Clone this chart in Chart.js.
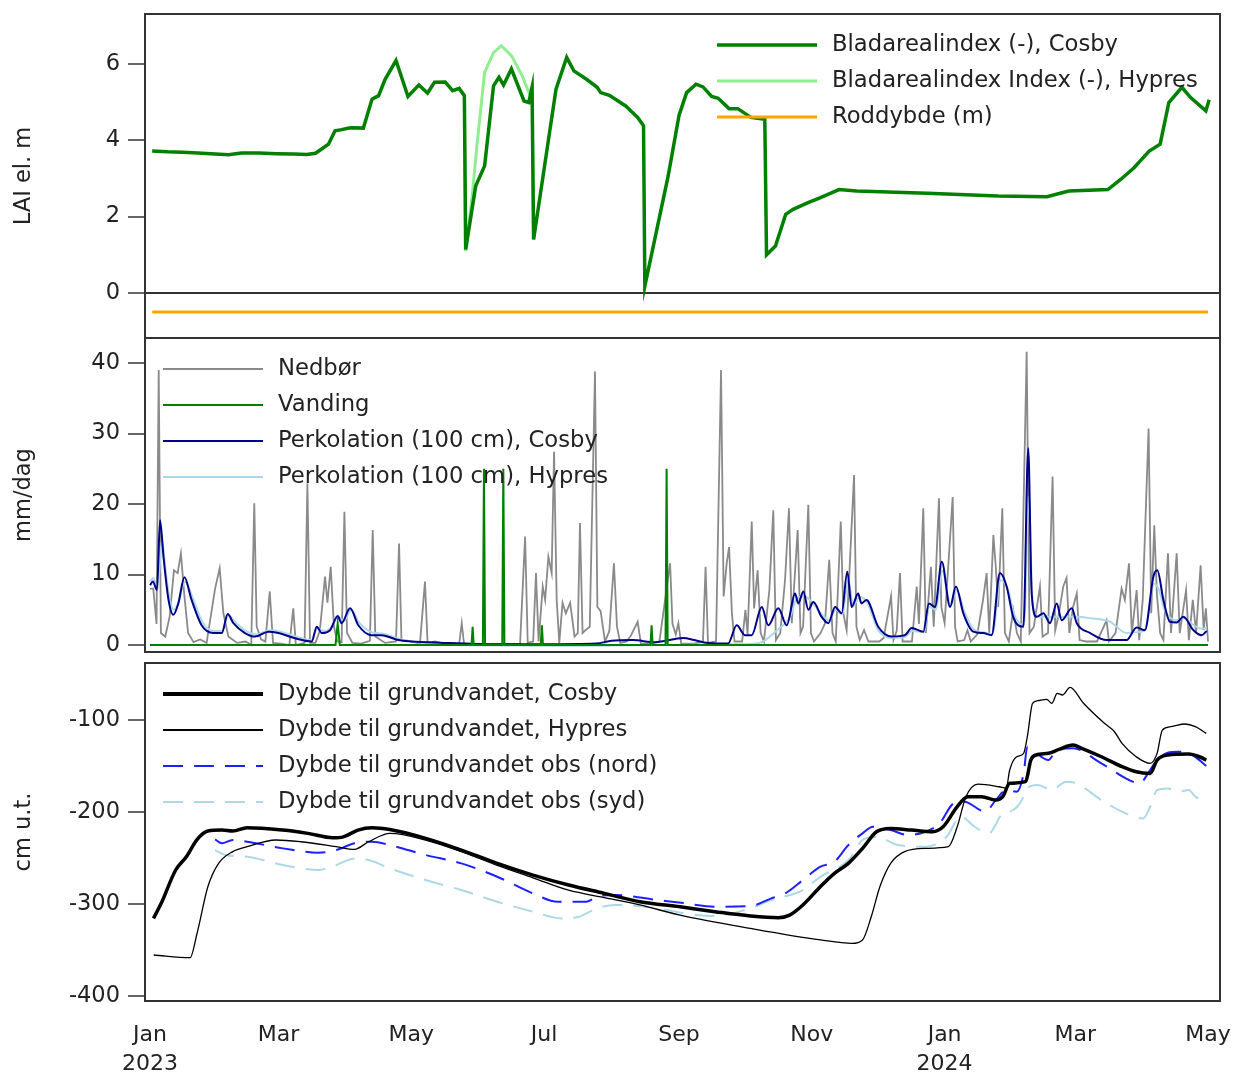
<!DOCTYPE html>
<html>
<head>
<meta charset="utf-8">
<script src="https://cdn.jsdelivr.net/npm/chart.js@4.4.1/dist/chart.umd.min.js"></script>
<style>
  body { margin: 0; background: #fff; }
  #wrap { position: relative; width: 1236px; height: 1077px; }
  canvas { position: absolute; left: 0; }
</style>
</head>
<body>
<div id="wrap">
  <canvas id="lai" width="1236" height="340" style="top:0px"></canvas>
  <canvas id="flux" width="1236" height="320" style="top:336px"></canvas>
  <canvas id="gw" width="1236" height="421" style="top:656px"></canvas>
</div>
<script>
// x = days since 1 Jan 2023
const monthDays = [0, 59, 120, 181, 243, 304, 365, 425, 486];
const monthLabels = [['Jan', '2023'], 'Mar', 'May', 'Jul', 'Sep', 'Nov', ['Jan', '2024'], 'Mar', 'May'];

const laiTicks = [0, 2, 4, 6];
const fluxTicks = [0, 10, 20, 30, 40];
const gwTicks = [-100, -200, -300, -400];

// Bladarealindex (LAI)
const laiCosby = [[1,3.72],[8,3.70],[15,3.69],[22,3.67],[30,3.64],[36,3.62],[42,3.67],[50,3.67],[58,3.65],[66,3.64],[72,3.63],[76,3.66],[79,3.78],[82,3.90],[85,4.25],[88,4.28],[92,4.33],[98,4.32],[102,5.08],[105,5.17],[108,5.60],[113,6.09],[118.5,5.15],[123.5,5.45],[127.5,5.24],[130.7,5.52],[135.6,5.53],[139,5.30],[142,5.36],[144.4,5.17],[145,1.14],[149.6,2.80],[153.7,3.33],[157.8,5.43],[160.3,5.65],[162.4,5.45],[166,5.87],[171.8,5.03],[174,4.99],[175.5,5.39],[176.2,1.40],[182.4,3.77],[186.5,5.34],[191.4,6.17],[194.7,5.82],[200.5,5.60],[205.4,5.39],[207,5.25],[211,5.18],[218.5,4.90],[224,4.60],[226.7,4.38],[227.3,0.18],[238,3.06],[243,4.65],[246.5,5.25],[250.8,5.47],[254,5.40],[258,5.15],[261,5.10],[266,4.83],[270,4.83],[276,4.60],[282.4,4.55],[283.2,1.0],[287.3,1.23],[292,2.06],[295.4,2.19],[302,2.36],[308,2.50],[316.5,2.71],[324.6,2.67],[357,2.61],[389.5,2.54],[412,2.52],[422,2.67],[440,2.71],[446,2.98],[452,3.28],[459,3.72],[464,3.90],[468,4.99],[474,5.39],[478,5.12],[485,4.77],[486.5,5.06]];
const laiHypres = [[140,5.30],[142,5.36],[144.4,5.17],[145,1.10],[148,2.54],[150,3.77],[153.7,5.78],[157.8,6.30],[161.4,6.48],[166,6.22],[171,5.69],[174,5.25],[175.5,5.39],[176.2,1.40]];
const roddybde = [[1,-0.5],[486,-0.5]];

// mm/dag
const nedbor = [[0,8],[1.5,8],[3,3],[4,39],[5,1.7],[7,1.2],[9,4],[11,10.6],[12.7,10.2],[14.2,13],[15.7,7.3],[17.5,1.7],[20,0.4],[23,0.8],[26,0.3],[29.9,8],[32,10.9],[33.7,4.5],[36,1.2],[40,0.3],[44,0.5],[46.5,0],[47.9,20.1],[49,2.6],[51,0.8],[53,0.5],[55,7.6],[56.5,0.3],[60,0.2],[64,0],[65.8,5.2],[67,0],[71,0.3],[72.3,22.9],[73.5,0.3],[76,0.3],[78,2],[80.4,9.7],[81.5,6],[83,11.1],[84.5,2.6],[86,0.5],[88,0.4],[89.3,18.9],[90.5,1.7],[93,0.3],[97,0.2],[101,0.6],[102.3,16.3],[103.5,1.2],[108,0.3],[113,0.5],[114.4,14.4],[115.5,0.7],[119,0.6],[124,0.2],[126.3,9],[127.5,0.3],[131,0.5],[136,0.1],[142,0.1],[143.2,3.1],[144.3,0],[170,0.2],[172.3,15.4],[173.5,0.3],[176,0.5],[177.3,10.2],[178.5,0.5],[180.4,8.3],[181.5,6.4],[183,12.5],[184.5,10.2],[185.6,27.4],[186.8,6.4],[188,0.3],[189.5,6],[191,4.5],[193,6],[195,1.2],[196.5,1.7],[197.5,17.3],[198.7,1.7],[200,2.1],[202,2.6],[204.4,38.8],[205.5,5.4],[207,4.8],[209,0.5],[211,2],[213.1,11.6],[214.5,2.6],[216,0.3],[219,0.5],[221,1.4],[224,3.3],[225.5,0.2],[230,0.2],[234,0.5],[238.9,11.6],[240,3],[241.5,1.5],[242.7,3.1],[244,0.2],[250,0.2],[254,0.5],[255.2,11.1],[256.3,0.3],[260,0.5],[262.3,39],[263.5,6.9],[264.9,11.6],[266,13.9],[267.3,4.5],[268.5,0.5],[272,0.5],[273.5,5],[274.5,1.5],[276.4,17.5],[277.5,5.2],[279.1,10.6],[280.5,1.7],[282,0.5],[284.5,7.8],[286.3,19.1],[287.5,0.7],[289.5,1.7],[291.7,9.2],[293.5,19.4],[294.8,3.1],[297.5,16.3],[298.8,1.7],[300,2.6],[302.4,19.9],[303.6,1.7],[305,0.5],[308,1.7],[310,3],[312,12.1],[313.5,1.7],[315,0.5],[317.3,17.5],[318.5,4.5],[320,2.1],[323.4,24.1],[324.5,2.6],[326,0.7],[328,2.1],[330,0.5],[335,0.5],[337,1],[340.4,6.9],[341.5,0.7],[343,2],[344.5,10.2],[345.7,0.5],[350,0.5],[352.2,8.3],[353.2,3],[355.2,19.4],[356.4,1.7],[358.7,11.1],[360,2.6],[362.4,20.8],[363.5,5.4],[365,3.1],[368.7,21],[369.8,2.6],[371,0.5],[374,0.7],[375.5,2.1],[377,0.5],[380,1.5],[382.5,6.1],[384.3,10.2],[385.5,1.7],[387.4,15.6],[388.5,11.1],[389.6,5.4],[391.5,19.4],[392.7,1.7],[394.5,0.5],[396.5,5],[398.2,1.7],[400,0.5],[402.7,41.6],[404,1.7],[406,2.6],[408.8,8.3],[410,1.2],[412.5,1.7],[414.6,23.9],[415.8,2.1],[417.5,4.5],[419.5,8.3],[421,9.5],[422.3,1.7],[424,5.4],[425.7,7.3],[427,0.7],[430,0.5],[435,0.5],[439.4,3.5],[440.5,0.5],[443.5,1.7],[446.3,8],[447.8,6.4],[449.7,11.6],[451,1.7],[453.2,7.8],[454.4,0.7],[456,6.4],[458.7,30.7],[459.9,4.5],[461.3,17],[462.5,7.3],[464,1.7],[465.5,0.7],[467.6,13],[469,1.7],[471.6,13],[473,1.7],[475.9,7.8],[477.2,0.7],[479,6.4],[480.5,1.7],[482.6,11.3],[484,2.1],[485,5.2],[486,0.5]];
const vanding = [[0,0],[85.2,0],[86.2,3],[87.2,0],[147.7,0],[148.2,2.6],[148.7,0],[152.9,0],[153.4,25],[153.9,0],[161.8,0],[162.3,25],[162.8,0],[179.5,0],[180,2.8],[180.5,0],[229.9,0],[230.4,2.8],[230.9,0],[236.8,0],[237.3,25],[237.8,0],[486,0]];
const perkCosby = [[0,8.5],[1.3,9],[3.2,7.8],[4.6,17.7],[6.2,12.5],[8.5,6.4],[10.7,4.3],[13,5.9],[15.8,9.6],[19.1,6.4],[23.7,2.8],[29.1,1.7],[33,1.7],[35.7,4.4],[38.3,3.1],[43.6,1.7],[48.2,1.2],[54.4,1.9],[59,1.7],[66.6,0.95],[74.3,0.5],[76.6,2.6],[78.9,1.7],[82.7,2.1],[86.2,4.1],[88,3.1],[91.9,5.2],[95.7,2.8],[101.8,1.4],[106.4,1.4],[114,0.7],[120,0.5],[135,0.3],[150,0.15],[180,0.1],[205,0.2],[212,0.6],[221.6,0.7],[232,0.4],[245,1.0],[250,0.7],[256.3,0.3],[265.5,0.2],[269.5,2.8],[273.3,1.4],[276.4,1.4],[281,5.4],[284,2.8],[288.6,5.2],[292.5,2.8],[296.3,7.3],[297.8,5.9],[300.1,7.6],[302.4,5],[304.7,6.1],[308.5,4],[311.6,3.1],[314.7,5.4],[317.7,4.5],[320.3,10.4],[322.3,5.4],[325.3,7.3],[326.8,5.9],[329.1,6.4],[334.5,2.6],[340.7,1.2],[346.8,1.4],[349.9,2.4],[355.2,1.9],[357.8,5.9],[360.6,5.4],[363.7,11.8],[367.5,5.4],[370.2,8.3],[373.6,4.5],[378.2,1.9],[382.8,1.7],[386.6,1.4],[390.4,10.2],[393.5,8.3],[396.5,4],[401.2,2.6],[403.4,27.9],[405,7.3],[407.3,4],[410.4,4.5],[413.4,3.1],[416.5,5.9],[418.8,3.5],[423.4,5.2],[425.7,3.1],[431.9,1.7],[439.4,0.7],[448.6,0.7],[453.2,2.5],[457,2.1],[460.9,9.7],[462.7,10.6],[465.5,6.4],[468.5,3.3],[471.6,3.2],[474.7,4],[479.3,2.1],[483.1,1.4],[485.4,2.0]];
const perkHypres = [[0,9],[1.5,9.5],[3.5,8],[5.5,15],[7,11],[9,6.5],[11,5],[13,6],[16,9],[19.5,6.8],[24,3.3],[29,2],[33,2],[36,4.2],[39,3.3],[44,2],[49,1.5],[55,2.1],[60,1.9],[67,1.2],[74,0.7],[77,2.4],[80,2],[83,2.4],[86.5,4],[89,3.4],[92.5,5],[96,3.2],[102,1.8],[107,1.6],[114,0.9],[120,0.5],[130,0.2],[140,0],[200,-0.1],[240,0],[270,0.1],[280,0.3],[288,2.1],[294,4],[296.8,6.4],[300.5,7],[304.7,5.8],[309,4.2],[312,3.5],[315,5],[318,4.4],[320.8,9.2],[323,5.6],[326,6.8],[329.5,6],[334.5,2.1],[340.7,1.0],[347,1.2],[350,2],[355.5,1.8],[358,5.4],[361,5],[364,10.5],[367.8,5.6],[370.5,7.8],[374,4.8],[378.5,2.2],[383,1.8],[387,1.6],[390.7,9.2],[394,8],[397,4.3],[401.5,2.8],[403.6,21],[405.5,5.5],[408,4],[415,4],[425,4],[432,3.8],[441,3.3],[448.6,1.7],[453,1.8],[457,2.2],[461.2,8.7],[463.5,7.8],[466,5],[469,3.8],[472,3.5],[475,3.8],[479.5,2.8],[483,2.3],[485.4,2.4]];

// cm u.t.
const gwCosby = [[1.6,-315.6],[5.2,-299],[11.8,-263],[16.7,-248.6],[21.6,-230],[26.6,-220.7],[33,-219.6],[38,-220.7],[44.6,-217],[61,-219.6],[72.5,-223.2],[84,-228],[88.8,-227],[95.5,-219.6],[102,-217],[110.2,-219],[126.6,-228.6],[143,-241.3],[159.5,-255.8],[175.9,-268.5],[192.3,-279.3],[208.7,-288.4],[225,-297.5],[243.5,-303],[259.5,-308.3],[275.7,-313],[288.6,-314.9],[293.8,-312],[299.9,-301],[308,-281],[314.4,-266.7],[320.8,-255.8],[327.3,-239.5],[333.7,-221.4],[340.2,-217.8],[349.8,-219.6],[359.5,-221.4],[364.3,-216],[370.8,-194.2],[375.6,-183.3],[382,-183.3],[388.5,-187],[391.7,-183.3],[394.9,-168.8],[402.2,-167],[404.6,-143.5],[407,-138],[412.7,-136.2],[417.5,-131.9],[424,-127.2],[428,-130.8],[437,-139.9],[446.5,-150.7],[453,-156.2],[459.4,-158],[462.6,-143.5],[467.5,-138],[477.1,-137],[482,-139.9],[485.2,-143.5]];
const gwHypres = [[1.7,-355.4],[18.4,-358.3],[21.6,-332],[26.6,-281],[31.5,-255.8],[38,-243],[44.6,-237.7],[57.8,-230.4],[69.2,-232.3],[85.6,-237.7],[93.9,-240.6],[100.4,-232.3],[110.2,-223.2],[126.6,-230.4],[143,-243],[159.5,-258],[175.9,-271.5],[192.3,-285],[208.7,-293],[225,-301],[243.5,-312],[275.7,-326.4],[308,-339],[322.4,-342.8],[327.3,-339],[331.3,-313.8],[335.3,-281],[340.2,-255.8],[346.6,-243],[356.2,-239.5],[366.7,-237.7],[370.8,-216],[374.8,-183.3],[380.4,-169.6],[390.1,-172.5],[393.3,-174],[394.9,-154.3],[398.1,-139.9],[401.3,-136.2],[403,-118],[405.4,-81.8],[407.8,-79],[411.9,-77.5],[414.3,-81.8],[416.7,-71],[419.2,-72.8],[422.6,-64.5],[428.8,-81.8],[438.4,-103.6],[443,-112.7],[446.5,-125.4],[453,-139.9],[459.4,-147.1],[462.6,-136.2],[465,-110.9],[469,-107.2],[475.5,-104.3],[480.2,-107.2],[485.2,-114.5]];
const gwNord = [[29.9,-229.7],[33,-234],[38,-230.4],[44.6,-232.3],[61,-239.5],[77.4,-244.2],[85.6,-241.3],[93.9,-234],[102,-232.3],[110.2,-235.9],[126.6,-246.7],[143,-255.8],[159.5,-270.3],[175.9,-288.4],[187.3,-297.5],[200.5,-297.5],[205.4,-292],[213.6,-290.2],[233.3,-295.7],[245,-299],[259.5,-302.9],[275.7,-302.2],[285.4,-293.8],[291.8,-288.4],[299.9,-273.9],[308,-259.4],[314.4,-254],[320.8,-235.9],[327.3,-223.2],[332.1,-216],[340.2,-219.6],[348.2,-225],[356.2,-221.4],[362.7,-212.3],[369.2,-190.6],[374,-188.8],[383.7,-199.6],[388.5,-187],[393.3,-176.1],[398.1,-178],[401.3,-158],[403,-129],[406.2,-134.4],[412.7,-143.5],[416,-134.4],[424,-130.8],[437,-147.1],[449.7,-165.2],[454.5,-168.8],[459.4,-154.3],[462.6,-143.5],[467.5,-135.5],[472.3,-134.4],[478.8,-138],[485.2,-150]];
const gwSyd = [[29.9,-241.3],[34.6,-246.7],[44.6,-248.6],[61,-257.6],[77.4,-263],[85.6,-257.6],[93.9,-250.4],[100.4,-252.2],[110.2,-261.2],[126.6,-273.9],[143,-284.8],[159.5,-297.5],[175.9,-308.3],[189,-315.6],[197,-313.8],[205.4,-304.7],[213.6,-301],[233.3,-304.7],[245,-310],[259.5,-313],[275.7,-304.7],[285.4,-295.7],[299.9,-284.8],[308,-270.3],[320.8,-252.2],[327.3,-230.4],[333.7,-226.8],[343.4,-235.9],[356.2,-237.7],[365.9,-226.8],[372.4,-205],[378.8,-216],[385.3,-223.2],[391.7,-201.4],[396.5,-197.8],[400.5,-187],[402.2,-176.1],[407.8,-170.7],[414.3,-176.1],[420.8,-167],[425.6,-168.8],[437,-187],[446.5,-199.6],[456.2,-206.9],[459.4,-194.2],[462.6,-176.1],[467.5,-174.3],[472.3,-178],[477.1,-176.1],[480.2,-183.3],[485.2,-188.8]];

Chart.defaults.font.family = '"DejaVu Sans", sans-serif';
Chart.defaults.color = '#222';

const pts = arr => arr.map(([x, y]) => ({ x, y }));

// legend inside the plot + frame round the plot area
const panelDecor = {
    id: 'panelDecor',
    afterDatasetsDraw(chart, args, opts) {
        const { ctx, chartArea: a } = chart;
        ctx.save();
        ctx.font = '22.7px "DejaVu Sans"';
        ctx.textBaseline = 'middle';
        chart.data.datasets.forEach((ds, i) => {
            const x = a.left + opts.x0;
            const y = a.top + opts.y0 + i * 36;
            ctx.beginPath();
            ctx.strokeStyle = ds.borderColor;
            ctx.lineWidth = ds.legendWidth || ds.borderWidth;
            ctx.setLineDash(ds.borderDash || []);
            ctx.moveTo(x, y);
            ctx.lineTo(x + 100, y);
            ctx.stroke();
            ctx.setLineDash([]);
            ctx.fillStyle = '#222';
            ctx.fillText(ds.label, x + 115, y);
        });
        ctx.strokeStyle = '#333';
        ctx.lineWidth = 2;
        ctx.strokeRect(a.left, a.top, a.right - a.left, a.bottom - a.top);
        ctx.restore();
    }
};

// no automatic room for half tick labels: the plot areas must line up exactly
function noEdgePadding(s) {
    s.paddingTop = 0;
    s.paddingBottom = 0;
    s.paddingLeft = 0;
    s.paddingRight = 0;
}

function xScale(showLabels) {
    return {
        type: 'linear',
        min: -2.3,
        max: 491.5,
        display: showLabels,
        afterBuildTicks: s => { s.ticks = monthDays.map(v => ({ value: v })); },
        afterFit: s => {
            if (showLabels) s.height = 76;
            noEdgePadding(s);
        },
        ticks: {
            autoSkip: false,
            maxRotation: 0,
            padding: 20,
            font: { size: 22, lineHeight: 1.3 },
            callback: (v, i) => monthLabels[i]
        },
        grid: { display: false, drawTicks: false },
        border: { display: false }
    };
}

function yScale(min, max, tickValues, title, zeroLine) {
    return {
        min, max,
        afterBuildTicks: s => { s.ticks = tickValues.map(v => ({ value: v })); },
        afterFit: s => {
            s.width = 145;
            noEdgePadding(s);
        },
        ticks: { font: { size: 22.5 }, padding: 8 },
        grid: {
            drawOnChartArea: zeroLine,
            color: c => (zeroLine && c.tick && c.tick.value === 0) ? '#333' : 'rgba(0,0,0,0)',
            lineWidth: 2,
            tickColor: '#333',
            tickLength: 17,
            tickWidth: 1.5
        },
        border: { display: false },
        title: { display: true, text: title, font: { size: 22.5 }, padding: { top: 11, bottom: 0 } }
    };
}

function line(label, data, color, width, extra) {
    return Object.assign({
        label,
        data: pts(data),
        borderColor: color,
        borderWidth: width,
        pointRadius: 0,
        tension: 0,
        fill: false
    }, extra || {});
}

const baseOptions = (padding, x, y, legendX) => ({
    responsive: false,
    animation: false,
    layout: { padding },
    plugins: {
        legend: { display: false },
        tooltip: { enabled: false },
        panelDecor: { x0: legendX, y0: 31 }
    },
    scales: { x, y }
});

new Chart(document.getElementById('lai'), {
    type: 'line',
    data: {
        datasets: [
            line('Bladarealindex (-), Cosby', laiCosby, '#008000', 3.5),
            line('Bladarealindex Index (-), Hypres', laiHypres, '#90ee90', 3),
            line('Roddybde (m)', roddybde, '#ffa500', 3)
        ]
    },
    options: baseOptions({ top: 14, right: 16, bottom: 2, left: 0 },
        xScale(false), yScale(-1.18, 7.31, laiTicks, 'LAI el. m', true), 572),
    plugins: [panelDecor]
});

new Chart(document.getElementById('flux'), {
    type: 'line',
    data: {
        datasets: [
            line('Nedbør', nedbor, '#8a8a8a', 1.8, { order: 3 }),
            line('Vanding', vanding, '#008000', 2, { order: 0 }),
            line('Perkolation (100 cm), Cosby', perkCosby, '#00008b', 2, { order: 1, cubicInterpolationMode: 'monotone' }),
            line('Perkolation (100 cm), Hypres', perkHypres, '#add8e6', 2, { order: 2, cubicInterpolationMode: 'monotone' })
        ]
    },
    options: baseOptions({ top: 2, right: 16, bottom: 4, left: 0 },
        xScale(false), yScale(-0.99, 43.55, fluxTicks, 'mm/dag', false), 18),
    plugins: [panelDecor]
});

new Chart(document.getElementById('gw'), {
    type: 'line',
    data: {
        datasets: [
            line('Dybde til grundvandet, Cosby', gwCosby, '#000', 3.5, { cubicInterpolationMode: 'monotone', legendWidth: 4 }),
            line('Dybde til grundvandet, Hypres', gwHypres, '#000', 1.3, { cubicInterpolationMode: 'monotone', legendWidth: 1.8 }),
            line('Dybde til grundvandet obs (nord)', gwNord, '#2020ff', 2, { cubicInterpolationMode: 'monotone', borderDash: [20, 11] }),
            line('Dybde til grundvandet obs (syd)', gwSyd, '#add8e6', 2, { cubicInterpolationMode: 'monotone', borderDash: [20, 11] })
        ]
    },
    options: baseOptions({ top: 7, right: 16, bottom: 0, left: 0 },
        xScale(true), yScale(-405.4, -38, gwTicks, 'cm u.t.', false), 18),
    plugins: [panelDecor]
});
</script>
</body>
</html>
